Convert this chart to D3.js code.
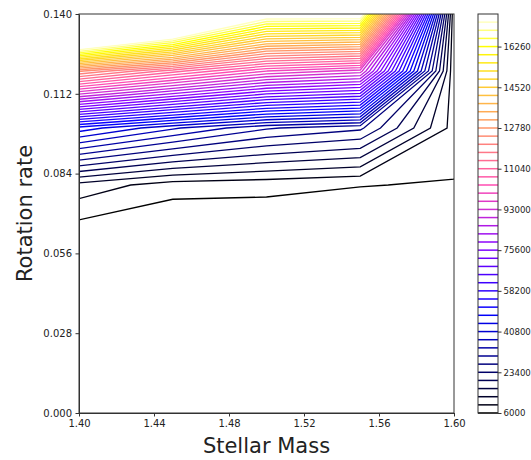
<!DOCTYPE html>
<html>
<head>
<meta charset="utf-8">
<script src="https://cdn.jsdelivr.net/npm/d3@7"></script>
<style>
body { margin: 0; background: #fff; }
</style>
</head>
<body>
<div id="chart"></div>
<script>
// grid the contours are traced on
var masses = [1.40, 1.45, 1.50, 1.55, 1.60];
var rates = [0.06, 0.08, 0.10, 0.12, 0.14];

// contoured quantity, one row per rotation rate, one value per mass
var zAt006 = [2380, 1000, 1500, 3000, 3000];
var zAt008 = [11700, 7670, 7200, 6100, 5765];
var zAt010 = [46400, 37900, 30800, 27640, 8030];
var zAt012 = [125000, 112000, 100000, 95000, 6200];
var zAt014 = [253800, 221000, 180100, 180000, 6300];

// contour levels (also the colorbar lines)
var levels = [6000, 9480, 12960, 16440, 19920, 23400, 26880, 30360, 33840, 37320,
    40800, 44280, 47760, 51240, 54720, 58200, 61680, 65160, 68640, 72120,
    75600, 79080, 82560, 86040, 89520, 93000, 96480, 99960, 103440, 106920,
    110400, 113880, 117360, 120840, 124320, 127800, 131280, 134760, 138240, 141720,
    145200, 148680, 152160, 155640, 159120, 162600, 166080, 169560, 173040, 176520];

var xTicks = [1.40, 1.44, 1.48, 1.52, 1.56, 1.60];
var yTicks = [0.000, 0.028, 0.056, 0.084, 0.112, 0.140];
var cbTicks = [6000, 23400, 40800, 58200, 75600, 93000, 110400, 127800, 145200, 162600];

var svg = d3.select('#chart').append('svg')
    .attr('width', 531)
    .attr('height', 460)
    .style('font-family', 'DejaVu Sans, sans-serif');

var x = d3.scaleLinear().domain([1.40, 1.60]).range([79, 454]);
var y = d3.scaleLinear().domain([0, 0.14]).range([413, 14]);

// d3.contours puts grid value i at i + 0.5
var gx = d3.scaleLinear().domain(masses.map((d, i) => i + 0.5)).range(masses);
var gy = d3.scaleLinear().domain(rates.map((d, i) => i + 0.5)).range(rates);

// matplotlib gnuplot2
function gnuplot2(t) {
    var c = v => Math.max(0, Math.min(1, v));
    var r = c(t / 0.32 - 0.78125);
    var g = c(2 * t - 0.84);
    var b = c(t < 0.25 ? 4 * t : (t < 0.92 ? -2 * t + 1.84 : t / 0.08 - 11.5));
    return d3.rgb(r * 255, g * 255, b * 255).toString();
}
var norm = d3.scaleLinear().domain([levels[0], levels[levels.length - 1]]).range([0, 1]);

var values = [].concat(zAt006, zAt008, zAt010, zAt012, zAt014);
var contours = d3.contours()
    .size([masses.length, rates.length])
    .thresholds(levels)(values);

var toPx = d3.geoTransform({
    point: function(px, py) { this.stream.point(x(gx(px)), y(gy(py))); }
});
var path = d3.geoPath(toPx);

// only keep the part of each ring inside the grid
svg.append('clipPath').attr('id', 'grid').append('rect')
    .attr('x', x(masses[0]))
    .attr('y', y(rates[rates.length - 1]))
    .attr('width', x(masses[masses.length - 1]) - x(masses[0]))
    .attr('height', y(rates[0]) - y(rates[rates.length - 1]));

svg.append('g')
    .attr('clip-path', 'url(#grid)')
    .selectAll('path')
    .data(contours)
    .join('path')
    .attr('d', path)
    .attr('fill', 'none')
    .attr('stroke', d => gnuplot2(norm(d.value)))
    .attr('stroke-width', 1.3);

// axes
var xAxis = svg.append('g')
    .attr('transform', 'translate(0,413)')
    .call(d3.axisBottom(x).tickValues(xTicks).tickFormat(d3.format('.2f'))
        .tickSize(3.5).tickPadding(3.5).tickSizeOuter(0));
var yAxis = svg.append('g')
    .attr('transform', 'translate(79,0)')
    .call(d3.axisLeft(y).tickValues(yTicks).tickFormat(d3.format('.3f'))
        .tickSize(3.5).tickPadding(3.5).tickSizeOuter(0));

svg.append('rect')
    .attr('x', 79).attr('y', 14)
    .attr('width', 454 - 79).attr('height', 413 - 14)
    .attr('fill', 'none')
    .attr('stroke', '#333')
    .attr('stroke-width', 1);

[xAxis, yAxis].forEach(function(a) {
    a.selectAll('text').attr('font-size', '10px').attr('font-family', 'DejaVu Sans, sans-serif').attr('fill', '#222');
    a.selectAll('line, path').attr('stroke', '#333');
});

svg.append('text')
    .attr('x', 266.5)
    .attr('y', 453)
    .attr('text-anchor', 'middle')
    .attr('font-size', '21px')
    .attr('fill', '#222')
    .text('Stellar Mass');

svg.append('text')
    .attr('transform', 'translate(32,213.5) rotate(-90)')
    .attr('text-anchor', 'middle')
    .attr('font-size', '21px')
    .attr('fill', '#222')
    .text('Rotation rate');

// colorbar
var cb = d3.scaleLinear().domain([levels[0], levels[levels.length - 1]]).range([413, 14]);
var cbar = svg.append('g');

cbar.selectAll('line')
    .data(levels)
    .join('line')
    .attr('x1', 478).attr('x2', 498)
    .attr('y1', d => cb(d)).attr('y2', d => cb(d))
    .attr('stroke', d => gnuplot2(norm(d)))
    .attr('stroke-width', 1.5);

cbar.append('rect')
    .attr('x', 478).attr('y', 14)
    .attr('width', 20).attr('height', 413 - 14)
    .attr('fill', 'none')
    .attr('stroke', '#333');

var cAxis = svg.append('g')
    .attr('transform', 'translate(498,0)')
    .call(d3.axisRight(cb).tickValues(cbTicks).tickFormat(d3.format('d'))
        .tickSize(3.5).tickPadding(2).tickSizeOuter(0));
cAxis.select('.domain').remove();
cAxis.selectAll('text').attr('font-size', '8.6px').attr('font-family', 'DejaVu Sans, sans-serif').attr('fill', '#222');
cAxis.selectAll('line').attr('stroke', '#333');
</script>
</body>
</html>
